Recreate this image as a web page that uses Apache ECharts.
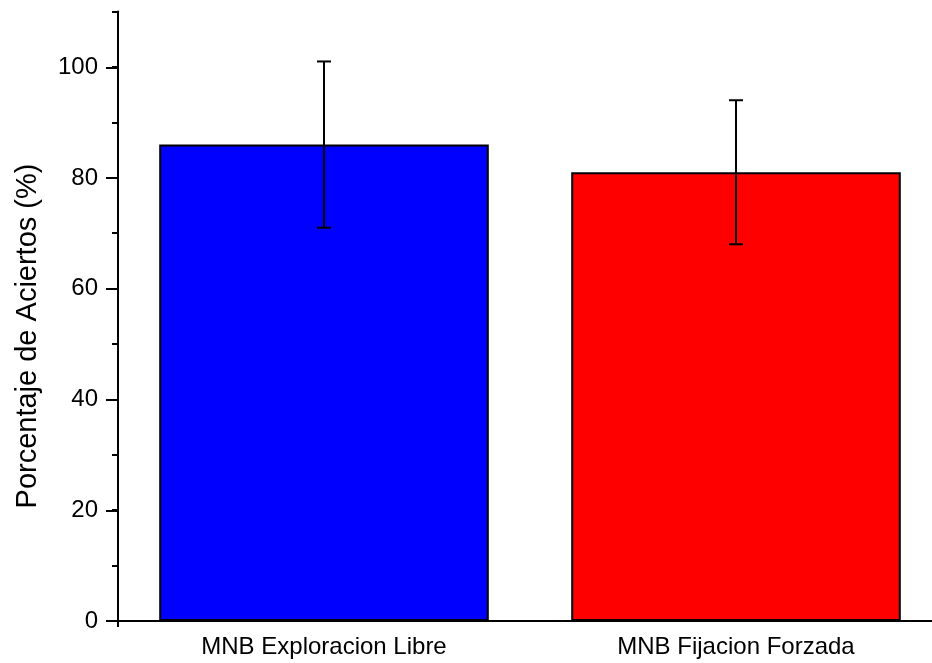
<!DOCTYPE html>
<html>
<head>
<meta charset="utf-8">
<script src="https://cdn.jsdelivr.net/npm/echarts@6/dist/echarts.min.js"></script>
<style>
  html, body { margin: 0; padding: 0; background: #fff; overflow: hidden; }
  /* the plot runs a little past the right edge of the window */
  #chart { width: 942px; height: 663px; }
</style>
</head>
<body>
<div id="chart"></div>
<script>
// Mean hit rate per condition, with its ± deviation
const categories = ['MNB Exploracion Libre', 'MNB Fijacion Forzada'];
const means = [86, 81];
const errors = [15, 13];
const barColors = ['#0000FF', '#FF0000'];
const yTickValues = [0, 20, 40, 60, 80, 100];

const FONT = 'Liberation Sans, Arial, sans-serif';
const chart = echarts.init(document.getElementById('chart'), null, { renderer: 'canvas' });

const errorData = means.map((m, i) => [i, m - errors[i], m + errors[i]]);

chart.setOption({
  animation: false,
  backgroundColor: '#ffffff',
  grid: [
    // main plot area: 0..110
    { left: 118, right: 0, top: 11.6, bottom: 42, containLabel: false },
    // label/major-tick area: 0..100 on the same pixel scale
    { left: 118, right: 0, top: 67.4, bottom: 42, containLabel: false }
  ],
  xAxis: [
    {
      type: 'category',
      gridIndex: 0,
      data: categories,
      axisLine: { lineStyle: { color: '#000', width: 2 } },
      axisTick: { alignWithLabel: true, length: 11, inside: false, lineStyle: { color: '#000', width: 2 } },
      axisLabel: { color: '#000', fontFamily: FONT, fontSize: 24, margin: 14 },
      splitLine: { show: false }
    },
    {
      type: 'category',
      gridIndex: 1,
      data: categories,
      show: false
    }
  ],
  yAxis: [
    {
      type: 'value',
      gridIndex: 0,
      min: 0,
      max: 110,
      interval: 10,
      axisLine: { show: true, lineStyle: { color: '#000', width: 2 } },
      axisTick: { show: true, length: 6, lineStyle: { color: '#000', width: 2 } },
      axisLabel: { show: false },
      splitLine: { show: false }
    },
    {
      type: 'value',
      gridIndex: 1,
      min: yTickValues[0],
      max: yTickValues[yTickValues.length - 1],
      interval: 20,
      axisLine: { show: false },
      axisTick: { show: true, length: 12, lineStyle: { color: '#000', width: 2 } },
      axisLabel: { color: '#000', fontFamily: FONT, fontSize: 24, margin: 20 },
      splitLine: { show: false }
    }
  ],
  graphic: [
    {
      type: 'text',
      x: 28,
      y: 336,
      rotation: Math.PI / 2,
      style: {
        text: 'Porcentaje de Aciertos (%)',
        font: '29px ' + FONT,
        fill: '#000',
        align: 'center',
        verticalAlign: 'middle'
      }
    },
    {
      // short extension of the y axis below the x axis
      type: 'line',
      shape: { x1: 118, y1: 621, x2: 118, y2: 627 },
      style: { stroke: '#000', lineWidth: 2 }
    }
  ],
  series: [
    {
      type: 'bar',
      xAxisIndex: 0,
      yAxisIndex: 0,
      barWidth: '80%',
      data: means.map((v, i) => ({
        value: v,
        itemStyle: { color: barColors[i], borderColor: '#000', borderWidth: 2 }
      })),
      z: 2
    },
    {
      type: 'custom',
      xAxisIndex: 0,
      yAxisIndex: 0,
      data: errorData,
      z: 5,
      renderItem: function (params, api) {
        const x = api.value(0);
        const lo = api.coord([x, api.value(1)]);
        const hi = api.coord([x, api.value(2)]);
        const half = 7;
        const style = { stroke: '#000', lineWidth: 2 };
        return {
          type: 'group',
          children: [
            { type: 'line', shape: { x1: hi[0], y1: hi[1], x2: lo[0], y2: lo[1] }, style: style },
            { type: 'line', shape: { x1: hi[0] - half, y1: hi[1], x2: hi[0] + half, y2: hi[1] }, style: style },
            { type: 'line', shape: { x1: lo[0] - half, y1: lo[1], x2: lo[0] + half, y2: lo[1] }, style: style }
          ]
        };
      }
    }
  ]
});
</script>
</body>
</html>
